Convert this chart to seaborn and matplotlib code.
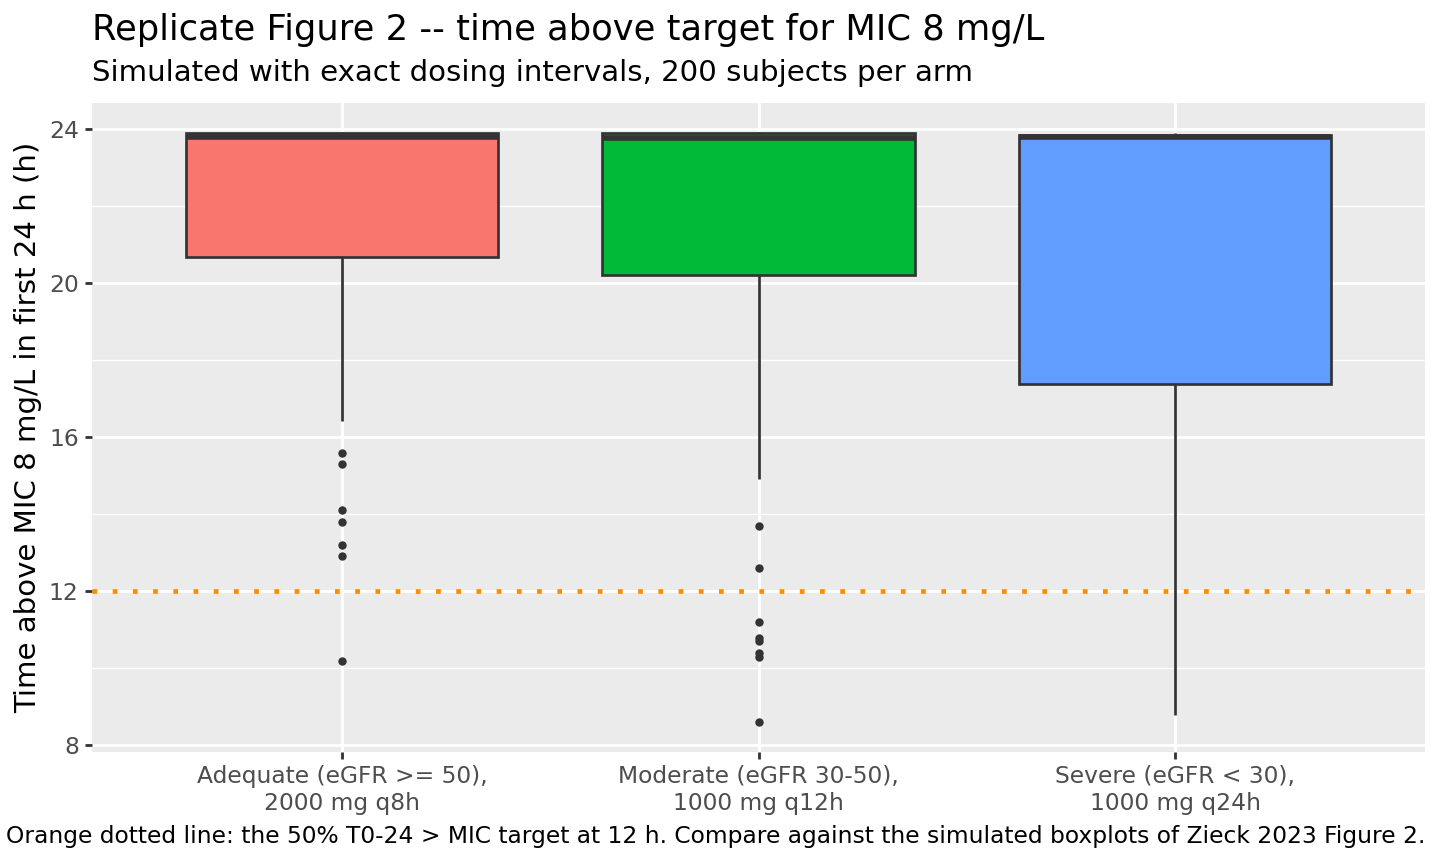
import numpy as np
import pandas as pd
import matplotlib
matplotlib.use("Agg")
import matplotlib.pyplot as plt
from matplotlib.ticker import MultipleLocator, FixedLocator
import seaborn as sns

# ---- data ----
arms = ["Adequate (eGFR >= 50),\n2000 mg q8h",
        "Moderate (eGFR 30-50),\n1000 mg q12h",
        "Severe (eGFR < 30),\n1000 mg q24h"]
arm_colors = ["#F8766D", "#00BA38", "#619CFF"]
# five-number summaries per arm
whisker_low = [16.42, 14.91, 8.78]
q1 = [20.68, 20.21, 17.38]
median = [23.78, 23.77, 23.79]
q3 = [23.90, 23.90, 23.84]
whisker_high = [23.91, 23.91, 23.90]
outliers_adequate = [15.58, 15.29, 14.09, 13.78, 13.19, 12.89, 10.18]
outliers_moderate = [13.68, 12.58, 11.18, 10.77, 10.69, 10.37, 10.29, 8.58]
outliers_severe = []
target_h = 12
y_ticks = [8, 12, 16, 20, 24]

title = "Replicate Figure 2 -- time above target for MIC 8 mg/L"
subtitle = "Simulated with exact dosing intervals, 200 subjects per arm"
ylabel = "Time above MIC 8 mg/L in first 24 h (h)"
caption = ("Orange dotted line: the 50% T0-24 > MIC target at 12 h. "
           "Compare against the simulated boxplots of Zieck 2023 Figure 2.")

# ---- tables ----
rows = []
for i, a in enumerate(arms):
    for v in (whisker_low[i], q1[i], median[i], q3[i], whisker_high[i]):
        rows.append({"arm": a, "value": v})
box_df = pd.DataFrame(rows)
out_rows = []
for a, vals in zip(arms, [outliers_adequate, outliers_moderate, outliers_severe]):
    for v in vals:
        out_rows.append({"arm": a, "value": v})
out_df = pd.DataFrame(out_rows, columns=["arm", "value"])

sns.set_theme(style="darkgrid", rc={
    "axes.facecolor": "#EBEBEB",
    "grid.color": "white",
    "axes.edgecolor": "#EBEBEB",
})
plt.rcParams["font.family"] = ["DejaVu Sans"]

fig = plt.figure(figsize=(10, 6), dpi=144)
ax = fig.add_axes([92 / 1440, 1 - 752 / 864, (1425 - 92) / 1440, (752 - 103) / 864])

sns.boxplot(data=box_df, x="arm", y="value", hue="arm", order=arms, hue_order=arms,
            palette=arm_colors, whis=(0, 100), showfliers=False, width=0.75,
            saturation=1, linecolor="#333333", linewidth=1.35,
            medianprops={"linewidth": 2.8, "solid_capstyle": "butt"},
            showcaps=False, legend=False, ax=ax, zorder=3)
sns.stripplot(data=out_df, x="arm", y="value", order=arms, jitter=False,
              color="#333333", size=4.2, linewidth=0, ax=ax, zorder=4)

ax.axhline(target_h, color="#FF8C00", linewidth=2.35,
           linestyle=(0, (1, 3.3)), dash_capstyle="butt", zorder=5)

ax.set_xlim(-0.6, 2.6)
ax.set_ylim(7.81, 24.67)
ax.yaxis.set_major_locator(FixedLocator(y_ticks))
ax.yaxis.set_minor_locator(MultipleLocator(2))
ax.grid(which="major", axis="both", color="white", linewidth=1.4)
ax.grid(which="minor", axis="y", color="white", linewidth=0.7)
ax.grid(which="minor", axis="x", visible=False)
ax.set_axisbelow(True)
for s in ax.spines.values():
    s.set_visible(False)

ax.tick_params(axis="both", which="major", length=3.6, width=1.4, color="#333333",
               labelcolor="#4D4D4D", labelsize=11.7, pad=3, direction="out",
               bottom=True, left=True)
ax.tick_params(axis="both", which="minor", length=0)
ax.set_xlabel("")
ax.set_ylabel(ylabel, fontsize=14.6, color="black", labelpad=3.5)

fig.text(92 / 1440, 1 - 30 / 864, title, fontsize=17.6, ha="left", va="center", color="black")
fig.text(92 / 1440, 1 - 73 / 864, subtitle, fontsize=14.6, ha="left", va="center", color="black")
fig.text(1425 / 1440, 1 - 836 / 864, caption, fontsize=11.68, ha="right", va="center", color="black")

fig.savefig("out.png", dpi=144)
